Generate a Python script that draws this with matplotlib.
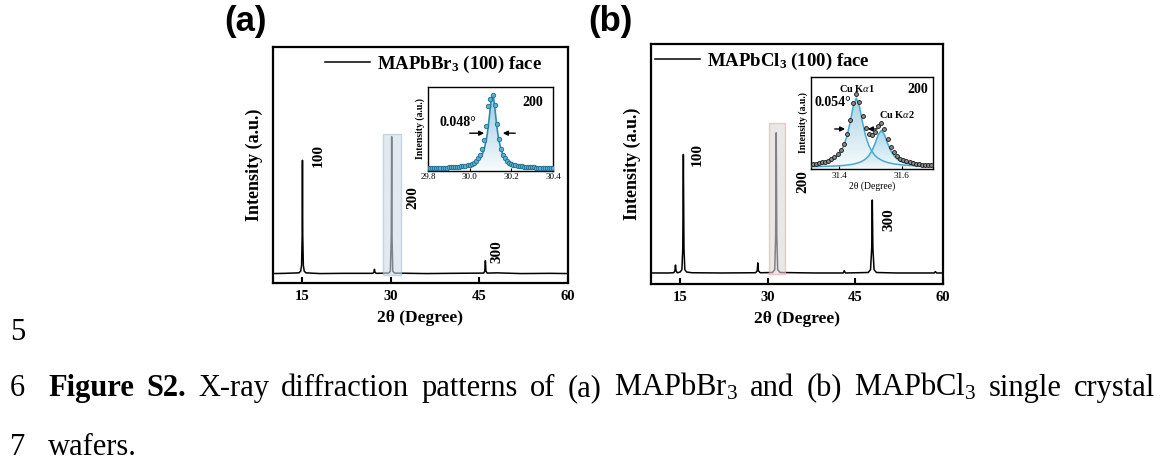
import numpy as np
import matplotlib
matplotlib.use('Agg')
import matplotlib.pyplot as plt
from matplotlib.patches import Polygon, Rectangle
from matplotlib.colors import to_rgb

plt.rcParams['font.family'] = ['Liberation Serif', 'DejaVu Serif']
plt.rcParams['mathtext.fontset'] = 'custom'
plt.rcParams['mathtext.rm'] = 'Liberation Serif'
plt.rcParams['mathtext.it'] = 'Liberation Serif:italic'
plt.rcParams['mathtext.bf'] = 'Liberation Serif:bold'
plt.rcParams['mathtext.default'] = 'regular'

# ---- (a) MAPbBr3 全谱 ----
xa = [10, 12, 14.4, 14.7, 14.85, 14.95, 15.0, 15.05, 15.15, 15.3, 15.6, 18, 22,
      26.9, 27.1, 27.2, 27.3, 27.5, 29.6, 29.9, 30.05, 30.12, 30.18, 30.3, 30.6,
      36, 40, 45.7, 45.9, 46.0, 46.1, 46.3, 48, 52, 57, 60]
ya = [0.040, 0.041, 0.043, 0.050, 0.075, 0.20, 0.52, 0.20, 0.075, 0.050, 0.043, 0.040, 0.041,
      0.041, 0.045, 0.058, 0.045, 0.041, 0.042, 0.050, 0.20, 0.62, 0.20, 0.050, 0.042,
      0.040, 0.041, 0.042, 0.050, 0.095, 0.050, 0.042, 0.043, 0.040, 0.041, 0.040]

# ---- (b) MAPbCl3 全谱 ----
xb = [10, 13, 13.9, 14.1, 14.2, 14.3, 14.5, 15.0, 15.3, 15.45, 15.55, 15.65, 15.8, 16.1, 17, 22,
      27.9, 28.2, 28.3, 28.4, 28.7, 30.8, 31.2, 31.35, 31.45, 31.55, 31.7, 32.1, 38,
      42.9, 43.1, 43.3, 47.2, 47.6, 47.8, 47.9, 48.0, 48.2, 48.6, 52, 58.5, 58.7, 58.9, 60]
yb = [0.046, 0.046, 0.047, 0.055, 0.079, 0.055, 0.047, 0.050, 0.060, 0.15, 0.54, 0.15, 0.060, 0.050, 0.047, 0.046,
      0.047, 0.055, 0.088, 0.055, 0.047, 0.048, 0.060, 0.20, 0.63, 0.20, 0.060, 0.048, 0.046,
      0.046, 0.055, 0.046, 0.048, 0.060, 0.15, 0.35, 0.15, 0.060, 0.048, 0.046, 0.046, 0.052, 0.046, 0.046]

# 峰标注 (位置, 高度)
peaks_a = [('100', 17.6, 0.54), ('200', 33.7, 0.364), ('300', 48.0, 0.131)]
peaks_b = [('100', 18.0, 0.54), ('200', 36.0, 0.425), ('300', 50.8, 0.267)]
box_a = (28.6, 31.7, 0.034, 0.63)
box_b = (30.2, 33.0, 0.040, 0.67)

# ---- 插图 (a): 200 峰 ----
ins_a_x = [29.80, 29.81, 29.82, 29.83, 29.84, 29.85, 29.86, 29.87, 29.88, 29.89,
           29.90, 29.91, 29.92, 29.93, 29.94, 29.95, 29.96, 29.97, 29.98, 29.99,
           30.00, 30.01, 30.02, 30.03, 30.04, 30.05, 30.06, 30.07, 30.08, 30.09,
           30.10, 30.11, 30.12, 30.13, 30.14, 30.15, 30.16, 30.17, 30.18, 30.19,
           30.20, 30.21, 30.22, 30.23, 30.24, 30.25, 30.26, 30.27, 30.28, 30.29,
           30.30, 30.31, 30.32, 30.33, 30.34, 30.35, 30.36, 30.37, 30.38, 30.39, 30.40]
ins_a_y = [0.036, 0.040, 0.035, 0.038, 0.036, 0.040, 0.037, 0.038, 0.040, 0.041,
           0.043, 0.044, 0.046, 0.049, 0.050, 0.053, 0.056, 0.060, 0.063, 0.070,
           0.076, 0.088, 0.100, 0.122, 0.150, 0.190, 0.262, 0.370, 0.540, 0.770,
           0.860, 0.905, 0.790, 0.560, 0.380, 0.262, 0.190, 0.150, 0.118, 0.100,
           0.088, 0.077, 0.070, 0.063, 0.058, 0.055, 0.052, 0.050, 0.048, 0.046,
           0.045, 0.042, 0.041, 0.040, 0.039, 0.040, 0.038, 0.037, 0.039, 0.036, 0.037]
fit_a_x = [29.80, 29.90, 29.96, 30.01, 30.03, 30.05, 30.06, 30.07, 30.08, 30.085, 30.09,
           30.095, 30.10, 30.105, 30.11, 30.115, 30.12, 30.125, 30.13, 30.135, 30.14,
           30.15, 30.16, 30.17, 30.19, 30.21, 30.26, 30.31, 30.40]
fit_a_y = [0.036, 0.042, 0.052, 0.077, 0.102, 0.150, 0.193, 0.260, 0.370, 0.447, 0.544,
           0.656, 0.771, 0.864, 0.900, 0.864, 0.771, 0.656, 0.544, 0.447, 0.370,
           0.260, 0.193, 0.150, 0.102, 0.077, 0.052, 0.042, 0.037]

# ---- 插图 (b): Kα1 / Kα2 ----
ins_b_x = [31.305, 31.315, 31.325, 31.335, 31.345, 31.355, 31.365, 31.375, 31.385, 31.395,
           31.405, 31.415, 31.425, 31.435, 31.445, 31.455, 31.465, 31.475, 31.485, 31.495,
           31.505, 31.515, 31.525, 31.535, 31.545, 31.555, 31.565, 31.575, 31.585, 31.595,
           31.605, 31.615, 31.625, 31.635, 31.645, 31.655, 31.665, 31.675, 31.685, 31.695, 31.705]
ka1_y = [0.043, 0.047, 0.051, 0.056, 0.063, 0.071, 0.082, 0.097, 0.117, 0.146,
         0.190, 0.255, 0.355, 0.505, 0.679, 0.770, 0.679, 0.505, 0.355, 0.255,
         0.190, 0.146, 0.117, 0.097, 0.082, 0.071, 0.063, 0.056, 0.051, 0.047,
         0.043, 0.041, 0.039, 0.037, 0.035, 0.034, 0.032, 0.031, 0.030, 0.029, 0.029]
ka2_y = [0.025, 0.026, 0.027, 0.027, 0.028, 0.029, 0.030, 0.031, 0.032, 0.034,
         0.036, 0.039, 0.043, 0.047, 0.053, 0.061, 0.072, 0.087, 0.110, 0.145,
         0.199, 0.278, 0.372, 0.420, 0.372, 0.278, 0.199, 0.145, 0.110, 0.087,
         0.072, 0.061, 0.053, 0.047, 0.043, 0.039, 0.036, 0.034, 0.032, 0.031, 0.030]
meas_b_y = [0.048, 0.053, 0.058, 0.063, 0.071, 0.080, 0.092, 0.108, 0.129, 0.160,
            0.206, 0.274, 0.378, 0.532, 0.712, 0.811, 0.731, 0.572, 0.445, 0.380,
            0.369, 0.404, 0.469, 0.497, 0.434, 0.329, 0.242, 0.181, 0.141, 0.114,
            0.095, 0.082, 0.072, 0.064, 0.058, 0.053, 0.048, 0.045, 0.042, 0.040, 0.039]

# 图注 (两端对齐的第一行)
caption_words = [('Figure', 'bold'), ('S2.', 'bold'), ('X-ray', 'normal'), ('diffraction', 'normal'),
                 ('patterns', 'normal'), ('of', 'normal'), ('(a)', 'normal'), (r'MAPbBr$_3$', 'normal'),
                 ('and', 'normal'), ('(b)', 'normal'), (r'MAPbCl$_3$', 'normal'), ('single', 'normal'),
                 ('crystal', 'normal')]


def gradient_fill(ax, x, y, color, y0=0.0, alpha=0.75, z=1):
    # 峰下方渐变填充
    verts = [(x[0], y0)] + list(zip(x, y)) + [(x[-1], y0)]
    poly = Polygon(verts, closed=True, facecolor='none', edgecolor='none')
    ax.add_patch(poly)
    img = np.zeros((200, 1, 4))
    img[:, :, :3] = to_rgb(color)
    img[:, 0, 3] = np.linspace(0.05, alpha, 200)
    im = ax.imshow(img, aspect='auto', origin='lower', zorder=z,
                   extent=[min(x), max(x), y0, max(y)])
    im.set_clip_path(poly)


def setup_main(ax):
    ax.set_xlim(10, 60)
    ax.set_ylim(0, 1)
    ax.set_xticks([15, 30, 45, 60])
    ax.set_yticks([])
    ax.tick_params(axis='x', direction='in', length=4, width=1.5, labelsize=10.5, pad=5)
    for lbl in ax.get_xticklabels():
        lbl.set_fontweight('bold')
    for s in ax.spines.values():
        s.set_linewidth(1.6)
    ax.set_xlabel('2θ (Degree)', fontsize=12.5, fontweight='bold', labelpad=5)
    ax.set_ylabel('Intensity (a.u.)', fontsize=13, fontweight='bold', labelpad=7)


fig = plt.figure(figsize=(11.62, 4.61), dpi=100)
W, H = 1162.0, 461.0

ax_a = fig.add_axes([0.2349, 0.3861, 0.2539, 0.5119])
ax_b = fig.add_axes([0.5602, 0.3839, 0.2513, 0.5206])

for ax, x, y, peaks, box, lab, fc, ec, lx in [
        (ax_a, xa, ya, peaks_a, box_a, r'MAPbBr$_3$ (100) face', '#cfdde6', '#9fc3d8', 0.178),
        (ax_b, xb, yb, peaks_b, box_b, r'MAPbCl$_3$ (100) face', '#d9d9d9', '#f0a8a8', 0.014)]:
    setup_main(ax)
    ax.plot(x, y, color='k', lw=1.1, label=lab)
    ax.add_patch(Rectangle((box[0], box[2]), box[1] - box[0], box[3] - box[2],
                           facecolor=fc, edgecolor=ec, lw=1.0, alpha=0.6, zorder=3))
    for txt, px, py in peaks:
        ax.text(px, py, txt, rotation=90, ha='center', va='center',
                fontsize=11, fontweight='bold')
    ax.legend(loc='center left', bbox_to_anchor=(lx, 0.928), frameon=False,
              borderpad=0, borderaxespad=0, handlelength=2.4, handletextpad=0.35,
              prop={'family': 'Liberation Serif', 'weight': 'bold', 'size': 13.5})

fig.text(245 / W, 1 - 22 / H, '(a)', fontsize=25, fontweight='bold', family='Liberation Sans',
         ha='center', va='center')
fig.text(610 / W, 1 - 22 / H, '(b)', fontsize=25, fontweight='bold', family='Liberation Sans',
         ha='center', va='center')

# ---- 插图 (a) ----
ia = fig.add_axes([0.3683, 0.6291, 0.1076, 0.1822])
gradient_fill(ia, fit_a_x, fit_a_y, '#7fc0dc', y0=0.0, alpha=0.8)
ia.plot(fit_a_x, fit_a_y, color='#2b8db3', lw=1.2, zorder=3)
ia.plot(ins_a_x, ins_a_y, 'o', ms=3.2, mfc='#5fb0cf', mec='#1d6e8e', mew=0.6, zorder=4)
ia.set_xlim(29.8, 30.4)
ia.set_ylim(0, 1)
ia.set_xticks([29.8, 30.0, 30.2, 30.4])
ia.set_yticks([])
ia.tick_params(axis='x', direction='in', length=2, width=0.8, labelsize=6.5, pad=1.5)
for s in ia.spines.values():
    s.set_linewidth(1.0)
ia.set_ylabel('Intensity (a.u.)', fontsize=7, fontweight='bold', labelpad=2)
ia.text(0.84, 0.82, '200', transform=ia.transAxes, fontsize=10, fontweight='bold',
        ha='center', va='center')
ia.text(0.24, 0.58, '0.048°', transform=ia.transAxes, fontsize=10, fontweight='bold',
        ha='center', va='center')
arr = dict(arrowstyle='-|>', color='k', lw=1.0, mutation_scale=7)
ia.annotate('', xy=(30.083, 0.45), xytext=(29.987, 0.45), arrowprops=arr)
ia.annotate('', xy=(30.146, 0.45), xytext=(30.232, 0.45), arrowprops=arr)

# ---- 插图 (b) ----
ib = fig.add_axes([0.6979, 0.6334, 0.1050, 0.1996])
gradient_fill(ib, ins_b_x, ka1_y, '#8cc6de', y0=0.0, alpha=0.75, z=1)
gradient_fill(ib, ins_b_x, ka2_y, '#8cc6de', y0=0.0, alpha=0.75, z=1)
ib.plot(ins_b_x, ka1_y, color='#4aa8d0', lw=1.1, zorder=3)
ib.plot(ins_b_x, ka2_y, color='#4aa8d0', lw=1.1, zorder=3)
ib.plot(ins_b_x, meas_b_y, 'o', ms=2.8, mfc='#8a8a8a', mec='#111111', mew=0.6, zorder=4)
ib.set_xlim(31.31, 31.70)
ib.set_ylim(0, 1)
ib.set_xticks([31.4, 31.6])
ib.set_yticks([])
ib.tick_params(axis='x', direction='in', length=2, width=0.8, labelsize=6.5, pad=2)
for s in ib.spines.values():
    s.set_linewidth(1.0)
ib.set_xlabel('2θ (Degree)', fontsize=7, labelpad=1)
ib.set_ylabel('Intensity (a.u.)', fontsize=7, fontweight='bold', labelpad=2)
ib.text(31.457, 0.88, r'Cu K$\mathit{\alpha}$1', fontsize=7.5, fontweight='bold', ha='center', va='center')
ib.text(31.585, 0.59, r'Cu K$\mathit{\alpha}$2', fontsize=7.5, fontweight='bold', ha='center', va='center')
ib.text(31.38, 0.72, '0.054°', fontsize=10, fontweight='bold', ha='center', va='center')
ib.text(31.652, 0.86, '200', fontsize=10, fontweight='bold', ha='center', va='center')
ib.annotate('', xy=(31.428, 0.435), xytext=(31.377, 0.435), arrowprops=arr)
ib.annotate('', xy=(31.483, 0.435), xytext=(31.530, 0.435), arrowprops=arr)

# ---- 图注 ----
cap_size = 22
fig.text(10 / W, 1 - 340 / H, '5', fontsize=cap_size, va='baseline')
fig.text(10 / W, 1 - 396 / H, '6', fontsize=cap_size, va='baseline')
fig.text(10 / W, 1 - 455 / H, '7', fontsize=cap_size, va='baseline')
fig.text(48 / W, 1 - 455 / H, 'wafers.', fontsize=cap_size, va='baseline')

renderer = fig.canvas.get_renderer()
words = [fig.text(0, 1 - 396 / H, w, fontsize=cap_size, fontweight=wt, va='baseline')
         for w, wt in caption_words]
widths = [t.get_window_extent(renderer).width for t in words]
x_left, x_right = 48.0, 1155.0
gap = (x_right - x_left - sum(widths)) / (len(words) - 1)
xpos = x_left
for t, w in zip(words, widths):
    t.set_x(xpos / W)
    xpos += w + gap

fig.savefig('out.png', dpi=100)
